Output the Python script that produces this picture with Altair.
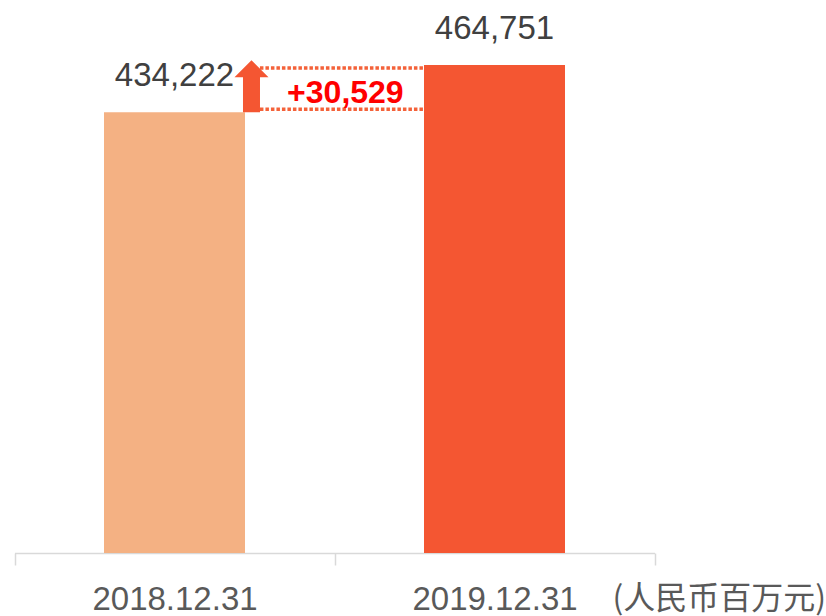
import altair as alt
import pandas as pd

# ---- data ----
categories = ["2018.12.31", "2019.12.31"]
values = [434222, 464751]
value_labels = ["434,222", "464,751"]
bar_colors = ["#F4B183", "#F45632"]
diff_label = "+30,529"
unit_title = "(人民币百万元)"

bars_df = pd.DataFrame({"cat": categories, "value": values, "label": value_labels})
diff_df = pd.DataFrame({
    "cat": [categories[0]],
    "cat_to": [categories[1]],
    "low": [values[0]],
    "high": [values[1]],
    "mid": [(values[0] + values[1]) / 2],
    "label": [diff_label],
})

x_scale = alt.Scale(domain=categories, range=[14.5, 654.5], paddingInner=0, paddingOuter=0)
y_scale = alt.Scale(domain=[150000, 506700], zero=False, nice=False)

x_axis = alt.Axis(
    title=unit_title,
    labelFont="Liberation Sans", labelFontSize=33, labelColor="#595959",
    labelBaseline="alphabetic", labelPadding=44, labelAngle=0,
    domainColor="#D9D9D9", domainWidth=1.5,
    tickColor="#D9D9D9", tickWidth=1.5, tickSize=12, tickBand="extent",
    grid=False,
    titleFont="Noto Sans CJK SC", titleFontSize=32, titleFontWeight="normal",
    titleColor="#595959", titleX=612, titleY=55, titleAlign="left",
    titleBaseline="alphabetic", titleAngle=0,
)

X = lambda field, **kw: alt.X(field, type="nominal", scale=x_scale, axis=x_axis, title=unit_title, **kw)
Y = lambda field: alt.Y(field, type="quantitative", scale=y_scale, axis=None)

dash = [3.5, 2]
dot_color = "#F4623A"

top_rule = alt.Chart(diff_df).mark_rule(
    color=dot_color, strokeWidth=3.5, strokeDash=dash
).encode(
    x=X("cat", bandPosition=0.767), x2=alt.X2("cat_to"), y=Y("high"), yOffset=alt.value(3)
)
bottom_rule = alt.Chart(diff_df).mark_rule(
    color=dot_color, strokeWidth=3.5, strokeDash=dash
).encode(
    x=X("cat", bandPosition=0.767), x2=alt.X2("cat_to"), y=Y("low"), yOffset=alt.value(-3)
)

bars = alt.Chart(bars_df).mark_bar(size=141, clip=True).encode(
    x=X("cat"),
    y=Y("value"),
    color=alt.Color("cat:N", scale=alt.Scale(domain=categories, range=bar_colors), legend=None),
)

value_text = alt.Chart(bars_df).mark_text(
    dy=-26, baseline="alphabetic", align="center",
    font="Liberation Sans", fontSize=33, color="#404040",
).encode(x=X("cat"), y=Y("value"), text="label:N")

arrow_path = "M-0.25,0L-0.25,-1.03L-0.5,-1.03L0,-1.53L0.5,-1.03L0.25,-1.03L0.25,0Z"
arrow = alt.Chart(diff_df).mark_point(
    shape=arrow_path, size=4624, filled=True, opacity=1, color="#F45632", strokeWidth=0
).encode(x=X("cat", bandPosition=0.7406), y=Y("low"))

diff_text = alt.Chart(diff_df).mark_text(
    baseline="middle", align="center", dy=4,
    font="Liberation Sans", fontSize=32, fontWeight="bold", color="#FF0000",
).encode(x=X("cat_to", bandPosition=0.034), y=Y("mid"), text="label:N")

chart = alt.layer(top_rule, bottom_rule, bars, value_text, arrow, diff_text).properties(
    width=826, height=553,
    padding={"left": 0, "right": 0, "top": 0, "bottom": 63},
    autosize=alt.AutoSizeParams(type="none"),
    background="white",
).configure_view(strokeWidth=0, stroke=None)

chart.save("out.html", embed_options={"renderer": "svg", "actions": False})
